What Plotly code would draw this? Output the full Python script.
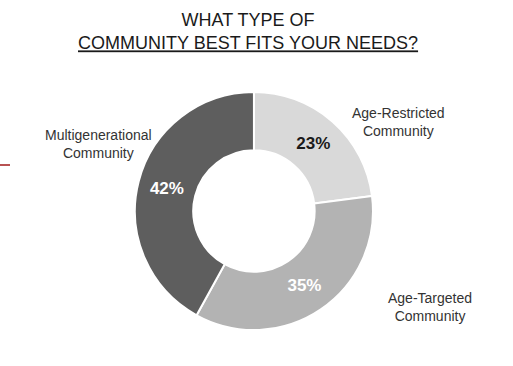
import plotly.graph_objects as go

categories = ["Age-Restricted Community", "Age-Targeted Community", "Multigenerational Community"]
values = [23, 35, 42]
colors = ["#d9d9d9", "#b3b3b3", "#5e5e5e"]
text_colors = ["#1a1a1a", "#ffffff", "#ffffff"]
label_lines = ["Age-Restricted<br>Community", "Age-Targeted<br>Community", "Multigenerational<br>Community"]

fig = go.Figure()
fig.add_trace(go.Pie(
    labels=categories,
    values=values,
    sort=False,
    direction="clockwise",
    rotation=0,
    hole=0.51,
    marker=dict(colors=colors, line=dict(color="white", width=2)),
    texttemplate="%{value}%",
    textposition="inside",
    insidetextorientation="horizontal",
    textfont=dict(family="Liberation Sans, Arial", size=17, color=text_colors, weight="bold"),
    showlegend=False,
    hoverinfo="label+percent",
    domain=dict(x=[0.263, 0.727], y=[0.098, 0.749]),
))

label_pos = [(398, 122), (430, 307), (98, 144)]
for txt, (px, py) in zip(label_lines, label_pos):
    fig.add_annotation(
        x=px / 513, y=1 - py / 366, xref="paper", yref="paper",
        xanchor="center", yanchor="middle",
        text=txt, showarrow=False, align="center",
        font=dict(family="Liberation Sans, Arial", size=14, color="#333333"),
    )

fig.add_annotation(
    x=248 / 513, y=1 - 32 / 366, xref="paper", yref="paper",
    xanchor="center", yanchor="middle",
    text="WHAT TYPE OF<br><u>COMMUNITY BEST FITS YOUR NEEDS?</u>",
    showarrow=False, align="center",
    font=dict(family="Liberation Sans, Arial", size=18, color="#1a1a1a"),
)

fig.add_shape(type="line", xref="paper", yref="paper",
              x0=0, x1=10 / 513, y0=1 - 165 / 366, y1=1 - 165 / 366,
              line=dict(color="#a01818", width=1.5))

fig.update_layout(
    width=513, height=366,
    margin=dict(l=0, r=0, t=0, b=0),
    paper_bgcolor="white", plot_bgcolor="white",
)

fig.write_html("out.html", config={"displayModeBar": False},
               post_script="document.body.style.margin='0';document.body.style.overflow='hidden';")
